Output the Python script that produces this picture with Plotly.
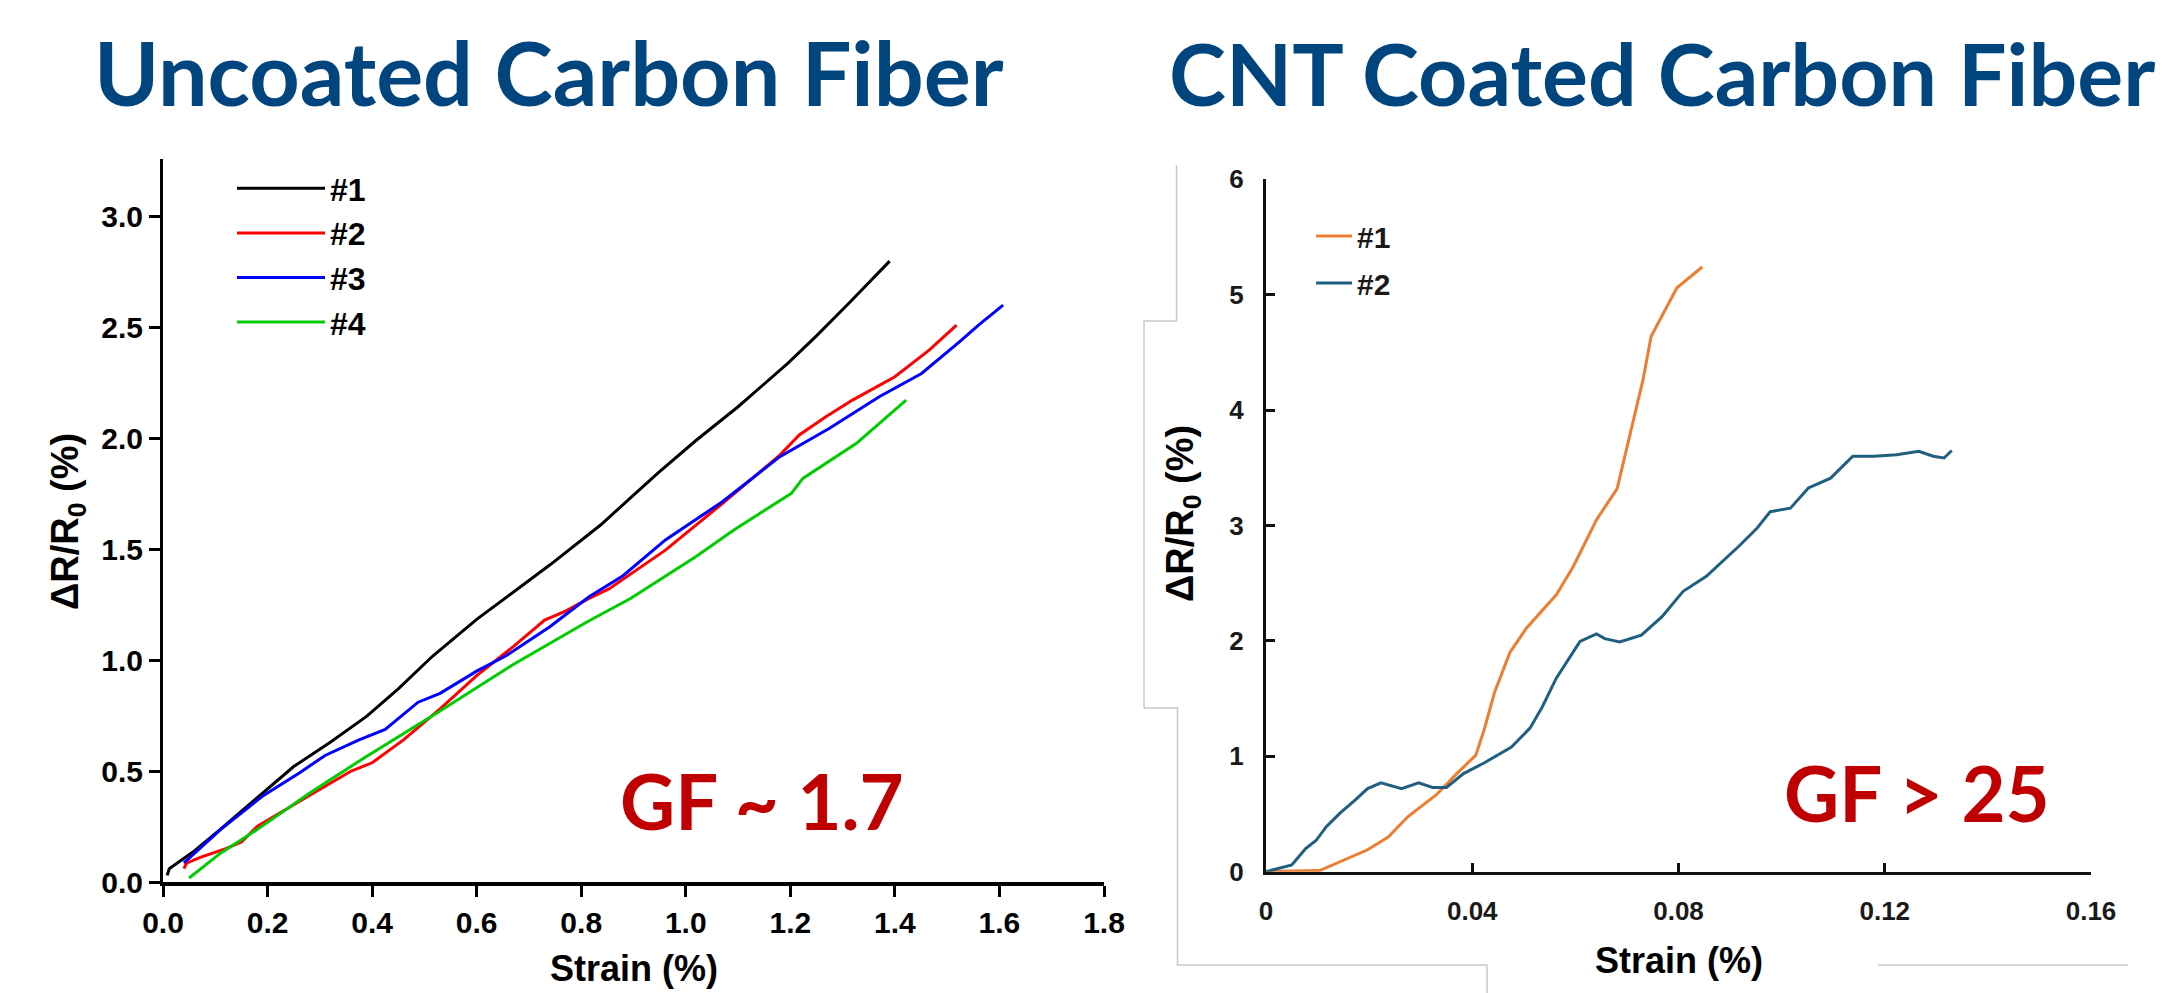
import plotly.graph_objects as go

W, H = 2175, 993

# ---------------- data: Uncoated carbon fiber ----------------
unc_names = ["#1", "#2", "#3", "#4"]
unc_colors = ["#000000", "#FF0000", "#0000FF", "#00CC00"]

unc1_x = [0.008, 0.012, 0.03, 0.06, 0.109, 0.18, 0.25, 0.32, 0.39, 0.45, 0.516, 0.60, 0.67, 0.741, 0.837, 0.946, 1.02, 1.10, 1.195, 1.25, 1.312, 1.35, 1.39]
unc1_y = [0.03, 0.06, 0.09, 0.14, 0.236, 0.38, 0.52, 0.63, 0.747, 0.87, 1.018, 1.183, 1.304, 1.43, 1.608, 1.841, 1.99, 2.141, 2.336, 2.46, 2.607, 2.70, 2.797]

unc2_x = [0.04, 0.045, 0.07, 0.12, 0.15, 0.18, 0.28, 0.36, 0.40, 0.46, 0.53, 0.60, 0.67, 0.73, 0.77, 0.815, 0.853, 0.961, 1.0705, 1.18, 1.217, 1.268, 1.319, 1.40, 1.4655, 1.518]
unc2_y = [0.06, 0.085, 0.11, 0.15, 0.18, 0.25, 0.39, 0.50, 0.537, 0.64, 0.78, 0.93, 1.06, 1.18, 1.22, 1.278, 1.32, 1.495, 1.706, 1.923, 2.014, 2.096, 2.171, 2.276, 2.396, 2.509]

unc3_x = [0.04, 0.06, 0.11, 0.19, 0.26, 0.31, 0.375, 0.425, 0.488, 0.53, 0.60, 0.657, 0.74, 0.815, 0.88, 0.961, 1.07, 1.18, 1.275, 1.37, 1.451, 1.524, 1.56, 1.607]
unc3_y = [0.086, 0.13, 0.236, 0.386, 0.49, 0.57, 0.64, 0.687, 0.81, 0.85, 0.95, 1.02, 1.15, 1.285, 1.38, 1.541, 1.713, 1.916, 2.044, 2.186, 2.291, 2.434, 2.509, 2.599]

unc4_x = [0.05, 0.11, 0.18, 0.28, 0.39, 0.53, 0.67, 0.81, 0.895, 0.95, 1.019, 1.092, 1.202, 1.224, 1.3265, 1.4215]
unc4_y = [0.018, 0.13, 0.236, 0.40, 0.567, 0.77, 0.98, 1.17, 1.278, 1.36, 1.465, 1.586, 1.751, 1.818, 1.976, 2.171]

unc_x_ticks = [0.0, 0.2, 0.4, 0.6, 0.8, 1.0, 1.2, 1.4, 1.6, 1.8]
unc_y_ticks = [0.0, 0.5, 1.0, 1.5, 2.0, 2.5, 3.0]

# ---------------- data: CNT coated carbon fiber ----------------
cnt_names = ["#1", "#2"]
cnt_colors = ["#ED7D31", "#1F5F80"]

cnt1_x = [0.0, 0.0104, 0.0197, 0.0237, 0.0276, 0.033, 0.037, 0.0407, 0.0424, 0.0443, 0.0473, 0.0505, 0.0563, 0.0596, 0.0641, 0.0681, 0.0731, 0.0747, 0.0797, 0.0846]
cnt1_y = [0.0, 0.01, 0.19, 0.30, 0.48, 0.665, 0.85, 1.01, 1.244, 1.55, 1.90, 2.11, 2.40, 2.645, 3.05, 3.32, 4.26, 4.64, 5.06, 5.24]

cnt2_x = [0.0, 0.0024, 0.005, 0.0077, 0.0097, 0.0117, 0.0144, 0.017, 0.0197, 0.0223, 0.0263, 0.0296, 0.0323, 0.035, 0.0383, 0.0422, 0.0449, 0.0476, 0.0512, 0.0536, 0.0563, 0.0609, 0.0641, 0.0657, 0.0686, 0.0728, 0.0768, 0.0809, 0.0854, 0.0917, 0.0953, 0.0978, 0.1017, 0.1052, 0.1095, 0.1138, 0.118, 0.1223, 0.1266, 0.1294, 0.1315, 0.133]
cnt2_y = [0.0, 0.03, 0.058, 0.2, 0.27, 0.39, 0.51, 0.61, 0.72, 0.77, 0.72, 0.77, 0.73, 0.73, 0.85, 0.94, 1.01, 1.08, 1.244, 1.43, 1.677, 1.995, 2.06, 2.02, 1.99, 2.05, 2.21, 2.43, 2.56, 2.82, 2.98, 3.12, 3.15, 3.325, 3.41, 3.60, 3.60, 3.614, 3.643, 3.60, 3.585, 3.65]

cnt_x_ticks = [0, 0.04, 0.08, 0.12, 0.16]
cnt_x_labels = ["0", "0.04", "0.08", "0.12", "0.16"]
cnt_y_ticks = [0, 1, 2, 3, 4, 5, 6]

titles = ["Uncoated Carbon Fiber", "CNT Coated Carbon Fiber"]
gf_labels = ["GF ~ 1.7", "GF > 25"]


def PX(x):
    return x / W


def PY(y):
    return 1 - y / H


fig = go.Figure()

unc_series = [(unc1_x, unc1_y), (unc2_x, unc2_y), (unc3_x, unc3_y), (unc4_x, unc4_y)]
for i, (xs, ys) in enumerate(unc_series):
    fig.add_trace(go.Scatter(x=xs, y=ys, mode="lines", name=unc_names[i],
                             line=dict(color=unc_colors[i], width=3),
                             xaxis="x", yaxis="y", legend="legend",
                             legendgroup="u%d" % i))

cnt_series = [(cnt1_x, cnt1_y), (cnt2_x, cnt2_y)]
for i, (xs, ys) in enumerate(cnt_series):
    fig.add_trace(go.Scatter(x=xs, y=ys, mode="lines", name=cnt_names[i],
                             line=dict(color=cnt_colors[i], width=3),
                             xaxis="x2", yaxis="y2", legend="legend2",
                             legendgroup="c%d" % i))

tick_font = dict(family="Liberation Sans, Arial, sans-serif", size=30, color="#000000", weight="bold")
tick_font2 = dict(family="Liberation Sans, Arial, sans-serif", size=26, color="#1a1a1a", weight="bold")

fig.update_layout(
    width=W, height=H, autosize=False,
    margin=dict(l=0, r=0, t=0, b=0, autoexpand=False),
    paper_bgcolor="white", plot_bgcolor="white",
    showlegend=True,
    xaxis=dict(domain=[PX(163), PX(1104)], range=[0, 1.8], tickvals=unc_x_ticks,
               tickformat=".1f", showline=True, linewidth=4, linecolor="black",
               ticks="outside", ticklen=11, tickwidth=3, tickcolor="black",
               showgrid=False, zeroline=False, tickfont=tick_font, anchor="y",
               automargin=False),
    yaxis=dict(domain=[PY(882), PY(159)], range=[0, 3.257], tickvals=unc_y_ticks,
               tickformat=".1f", showline=True, linewidth=3, linecolor="black",
               ticks="outside", ticklen=11, tickwidth=3, tickcolor="black",
               showgrid=False, zeroline=False, tickfont=tick_font, anchor="x",
               automargin=False),
    xaxis2=dict(domain=[PX(1266), PX(2091)], range=[0, 0.16], tickvals=cnt_x_ticks,
                ticktext=cnt_x_labels, showline=True, linewidth=3, linecolor="#111111",
                ticks="inside", ticklen=9, tickwidth=3, tickcolor="#111111",
                ticklabelstandoff=14,
                showgrid=False, zeroline=False, tickfont=tick_font2, anchor="y2",
                automargin=False),
    yaxis2=dict(domain=[PY(871.7), PY(179.3)], range=[0, 6], tickvals=cnt_y_ticks,
                showline=True, linewidth=3, linecolor="#111111",
                ticks="inside", ticklen=9, tickwidth=3, tickcolor="#111111",
                ticklabelstandoff=14,
                showgrid=False, zeroline=False, tickfont=tick_font2, anchor="x2",
                automargin=False),
    legend=dict(x=PX(232), y=PY(161), xanchor="left", yanchor="top",
                bgcolor="rgba(0,0,0,0)", itemwidth=88, tracegroupgap=0,
                font=dict(family="Liberation Sans, Arial, sans-serif", size=32, color="black", weight="bold")),
    legend2=dict(x=PX(1311), y=PY(210), xanchor="left", yanchor="top",
                 bgcolor="rgba(0,0,0,0)", itemwidth=36, tracegroupgap=5,
                 font=dict(family="Liberation Sans, Arial, sans-serif", size=30, color="#1a1a1a", weight="bold")),
)

ann = []
ann.append(dict(text=titles[0], x=PX(549), y=PY(72), xref="paper", yref="paper",
                xanchor="center", yanchor="middle", showarrow=False,
                font=dict(family="Lato, Open Sans, sans-serif", size=88, color="#00457E", weight="bold")))
ann.append(dict(text=titles[1], x=PX(1662), y=PY(72), xref="paper", yref="paper",
                xanchor="center", yanchor="middle", showarrow=False,
                font=dict(family="Lato, Open Sans, sans-serif", size=86, color="#00457E", weight="bold")))

gf_font = dict(family="Lato, Open Sans, sans-serif", size=76, color="#C00000", weight="bold")
ann.append(dict(text=gf_labels[0], x=PX(762), y=PY(800), xref="paper", yref="paper",
                xanchor="center", yanchor="middle", showarrow=False, font=gf_font))
ann.append(dict(text=gf_labels[1], x=PX(1917), y=PY(792), xref="paper", yref="paper",
                xanchor="center", yanchor="middle", showarrow=False, font=gf_font))

axt_font = dict(family="Liberation Sans, Arial, sans-serif", size=36, color="black", weight="bold")
yt_font = dict(family="Liberation Sans, Arial, sans-serif", size=38, color="black", weight="bold")
ann.append(dict(text="Strain (%)", x=PX(634), y=PY(968), xref="paper", yref="paper",
                xanchor="center", yanchor="middle", showarrow=False, font=axt_font))
ann.append(dict(text="Strain (%)", x=PX(1679), y=PY(960), xref="paper", yref="paper",
                xanchor="center", yanchor="middle", showarrow=False, font=axt_font))
ann.append(dict(text="\u0394R/R<sub>0</sub> (%)", x=PX(68), y=PY(522), xref="paper", yref="paper",
                xanchor="center", yanchor="middle", showarrow=False, textangle=-90, font=yt_font))
ann.append(dict(text="\u0394R/R<sub>0</sub> (%)", x=PX(1183), y=PY(514), xref="paper", yref="paper",
                xanchor="center", yanchor="middle", showarrow=False, textangle=-90, font=yt_font))
fig.update_layout(annotations=ann)

# decorative grey frame fragments of the pasted screenshot
frame_pts = [
    [(1176.5, 165), (1176.5, 321), (1144, 321), (1144, 708), (1177.5, 708), (1177.5, 965), (1487, 965), (1487, 993)],
    [(1878, 965), (2128, 965)],
]
shapes = []
for seg in frame_pts:
    path = "M " + " L ".join("%.5f,%.5f" % (PX(a), PY(b)) for a, b in seg)
    shapes.append(dict(type="path", path=path, xref="paper", yref="paper",
                       line=dict(color="#C8C8C8", width=1.5)))
fig.update_layout(shapes=shapes)

# remove the browser's default page margin so the figure fills the window exactly
fig.write_html("out.html", config={"displayModeBar": False},
               post_script="document.body.style.margin='0px';document.body.style.padding='0px';document.body.style.overflow='hidden';")
